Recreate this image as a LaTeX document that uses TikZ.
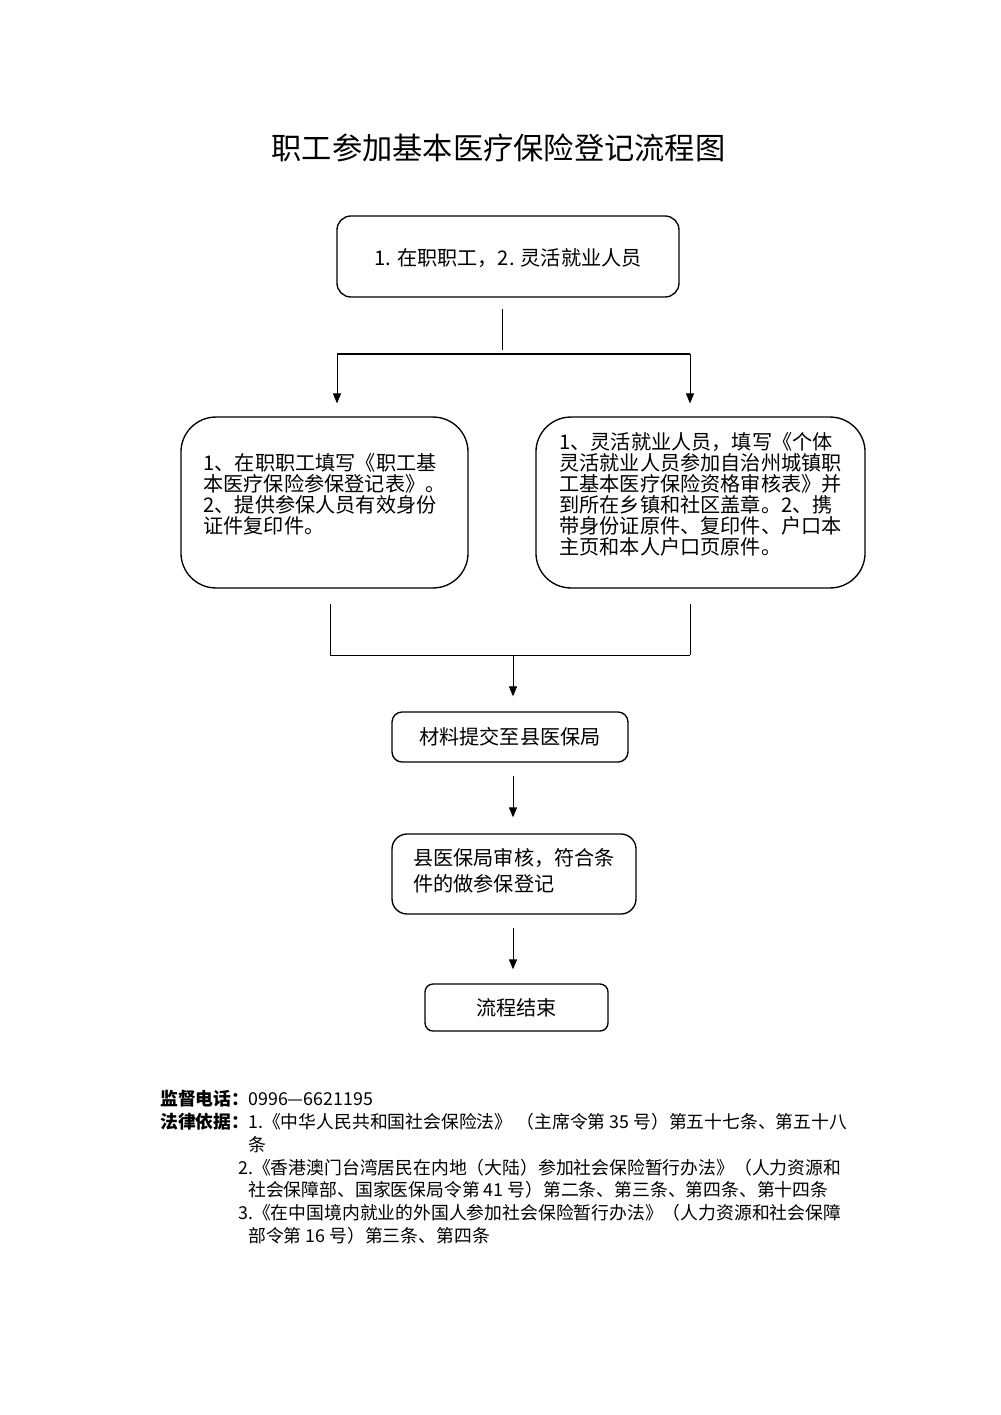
\documentclass[tikz,border=0pt]{standalone}
\usepackage{fontspec}
\setmainfont{Noto Sans CJK SC}
\usetikzlibrary{arrows.meta}
\newcommand{\tailgap}[1]{\rule[-#1]{0pt}{0pt}}

\begin{document}
\begin{tikzpicture}[x=0.595pt, y=-0.595pt,
		flow/.style={draw, line width=0.8pt, align=left, inner sep=0pt, font=\fontsize{12pt}{12.5pt}\selectfont},
		link/.style={line width=0.6pt},
		arrow/.style={line width=0.6pt, -{Triangle[width=4.8pt, length=6pt]}},
		note/.style={anchor=west, inner sep=0pt, font=\fontsize{10.6pt}{13.7pt}\selectfont}]
			\useasboundingbox (0,0) rectangle (1000,1415);

			% Title
			\node[font=\fontsize{18pt}{18pt}\selectfont] (title) at (498.5,148) {职工参加基本医疗保险登记流程图};

			% Boxes
			\node[flow, rounded corners=8.3pt, minimum width=203.5pt, minimum height=48.2pt] (who) at (508,256.5)
				{\rule{0pt}{11.5pt}1. 在职职工，2. 灵活就业人员};
			\node[flow, rounded corners=20.8pt, minimum width=170.8pt, minimum height=101.7pt] (staff) at (324.5,502.5)
				{1、在职职工填写《职工基\\本医疗保险参保登记表》。\\2、提供参保人员有效身份\\证件复印件。\tailgap{11pt}};
			\node[flow, rounded corners=20.8pt, minimum width=195.8pt, minimum height=101.7pt] (apply) at (700.5,502.5)
				{1、灵活就业人员，填写《个体\\灵活就业人员参加自治州城镇职\\工基本医疗保险资格审核表》并\\到所在乡镇和社区盖章。2、携\\带身份证原件、复印件、户口本\\主页和本人户口页原件。\tailgap{11pt}};
			\node[flow, rounded corners=6pt, minimum width=140.4pt, minimum height=29.8pt] (submit) at (510,737)
				{材料提交至县医保局};
			\node[flow, rounded corners=9pt, minimum width=145.2pt, minimum height=47.6pt, font=\fontsize{12pt}{15.5pt}\selectfont] (review) at (514,874)
				{县医保局审核，符合条\\件的做参保登记\tailgap{4.8pt}};
			\node[flow, rounded corners=4.8pt, minimum width=108.9pt, minimum height=28pt] (finish) at (516.5,1007.5)
				{流程结束};

			% Junctions
			\coordinate (fork) at (502,350);
			\coordinate (forkL) at (337,354);
			\coordinate (forkR) at (690,354);
			\coordinate (joinL) at (330,655);
			\coordinate (joinR) at (690,655);
			\coordinate (joinM) at (513,655);

			% Connectors
			\draw[link, shorten <=6.5pt] (fork |- who.south) -- (fork);
			\draw[link] (forkL) -- (forkR);
			\draw[arrow, shorten >=7.7pt] (forkL) -- (forkL |- staff.north);
			\draw[arrow, shorten >=7.7pt] (forkR) -- (forkR |- apply.north);
			\draw[link, shorten <=8.9pt] (joinL |- staff.south) -- (joinL);
			\draw[link, shorten <=8.9pt] (joinR |- apply.south) -- (joinR);
			\draw[link] (joinL) -- (joinR);
			\draw[arrow, shorten >=8.9pt] (joinM) -- (joinM |- submit.north);
			\draw[arrow, shorten <=7.7pt, shorten >=9.5pt] (joinM |- submit.south) -- (joinM |- review.north);
			\draw[arrow, shorten <=7.7pt, shorten >=8.3pt] (joinM |- review.south) -- (joinM |- finish.north);

			% Footer
			\node[note, font=\fontsize{10.6pt}{13.7pt}\selectfont\bfseries] (telkey) at (160,1099) {监督电话：};
			\node[note] (tel) at (248,1099) {0996—6621195};
			\node[note, font=\fontsize{10.6pt}{13.7pt}\selectfont\bfseries] (lawkey) at (160,1122) {法律依据：};
			\node[note] (law1) at (248,1122) {1.《中华人民共和国社会保险法》 （主席令第 35 号）第五十七条、第五十八};
			\node[note] (law1b) at (248,1145) {条};
			\node[note] (law2) at (238,1168) {2.《香港澳门台湾居民在内地（大陆）参加社会保险暂行办法》（人力资源和};
			\node[note] (law2b) at (248,1190) {社会保障部、国家医保局令第 41 号）第二条、第三条、第四条、第十四条};
			\node[note] (law3) at (238,1213) {3.《在中国境内就业的外国人参加社会保险暂行办法》（人力资源和社会保障};
			\node[note] (law3b) at (248,1236) {部令第 16 号）第三条、第四条};
		\end{tikzpicture}
\end{document}
